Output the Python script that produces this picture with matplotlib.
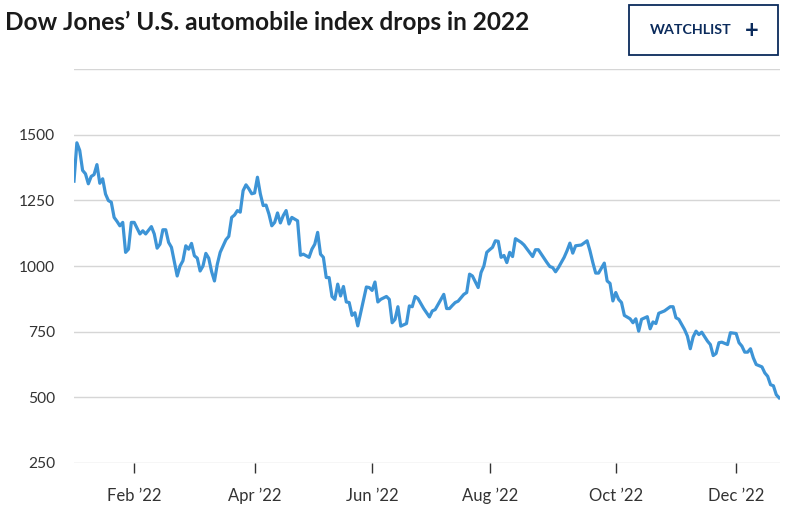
import matplotlib.pyplot as plt
from matplotlib.patches import Rectangle

# trading session number (0 = Dec 31 2021) and index close
session = [0, 1, 2, 3, 4, 5, 6, 7, 8, 9, 10, 11, 12, 13, 14, 15, 16, 17, 18, 19,
           20, 21, 23, 24, 25, 27, 28, 29, 30, 31, 32, 33, 34, 36, 37, 38, 39, 40,
           41, 42, 43, 44, 45, 46, 47, 48, 49, 50, 51, 53, 54, 55, 56, 57, 58, 59,
           60, 61, 62, 63, 64, 65, 66, 67, 68, 69, 70, 71, 72, 73, 74, 75, 76, 78,
           79, 80, 81, 82, 83, 84, 85, 86, 87, 88, 89, 90, 91, 92, 93, 94, 95, 96,
           97, 98, 99, 102, 103, 104, 105, 106, 107, 109, 110, 111, 112, 113, 114,
           116, 117, 118, 119, 120, 122, 124, 125, 126, 128, 129, 130, 131, 132,
           133, 134, 136, 137, 138, 139, 141, 142, 143, 144, 145, 146, 147, 148,
           149, 150, 151, 152, 153, 154, 156, 157, 160, 161, 162, 164, 165, 166,
           167, 168, 169, 171, 172, 173, 174, 175, 177, 179, 180, 181, 182, 183,
           185, 186, 187, 188, 189, 190, 191, 192, 194, 195, 196, 197, 198, 200,
           201, 202, 203, 204, 206, 208, 209, 210, 211, 213, 214, 215, 216, 217,
           218, 219, 221, 222, 223, 224, 225, 226, 228, 229, 231, 232, 233, 234,
           235, 236, 237, 238, 240, 241, 242, 243, 244, 245, 246]
index = [1323, 1469, 1440, 1364, 1351, 1313, 1341, 1348, 1386, 1315, 1332, 1274,
         1249, 1243, 1185, 1170, 1153, 1166, 1052, 1064, 1166, 1166, 1122, 1134,
         1122, 1150, 1122, 1068, 1083, 1138, 1138, 1090, 1071, 962, 1000, 1020,
         1077, 1064, 1086, 1039, 1030, 981, 1000, 1048, 1030, 979, 943, 1007, 1052,
         1100, 1113, 1185, 1194, 1211, 1205, 1287, 1309, 1294, 1275, 1278, 1338,
         1275, 1230, 1232, 1198, 1153, 1166, 1202, 1164, 1192, 1211, 1160, 1185,
         1172, 1041, 1045, 1039, 1033, 1064, 1083, 1128, 1045, 1033, 956, 956, 884,
         873, 931, 886, 922, 863, 861, 812, 822, 772, 920, 918, 907, 939, 863, 873,
         884, 873, 784, 797, 845, 771, 781, 848, 845, 884, 876, 838, 806, 829, 834,
         873, 892, 838, 838, 850, 861, 866, 892, 899, 969, 962, 918, 975, 1000,
         1052, 1062, 1071, 1096, 1094, 1033, 1040, 1013, 1052, 1036, 1104, 1090,
         1080, 1036, 1062, 1062, 1029, 1013, 998, 994, 978, 994, 1033, 1058, 1087,
         1049, 1077, 1080, 1096, 1058, 1013, 973, 973, 1011, 943, 934, 867, 899,
         873, 861, 812, 799, 784, 799, 752, 797, 807, 761, 787, 781, 820, 829, 845,
         845, 803, 797, 758, 733, 685, 730, 752, 739, 748, 714, 701, 659, 667, 708,
         710, 701, 746, 743, 708, 695, 672, 672, 685, 650, 625, 616, 593, 580, 548,
         544, 510, 498]

# first session of each labelled month
month_session = [21, 63, 104, 145, 189, 231]
month_labels = ["Feb \u201922", "Apr \u201922", "Jun \u201922", "Aug \u201922",
                "Oct \u201922", "Dec \u201922"]
y_ticks = [250, 500, 750, 1000, 1250, 1500, 1750]

plt.rcParams['font.family'] = ['Lato', 'DejaVu Sans']

fig = plt.figure(figsize=(7.87, 5.17), dpi=100)
ax = fig.add_axes([74 / 787, 54 / 517, 706 / 787, 394 / 517])

ax.plot(session, index, color='#3d94d6', lw=2.3, solid_joinstyle='round')

ax.set_xlim(0, 246.3)
ax.set_ylim(250, 1750)
ax.set_yticks(y_ticks)
ax.set_yticklabels([str(v) if v < 1750 else '' for v in y_ticks])
ax.set_xticks(month_session)
ax.set_xticklabels(month_labels)

ax.grid(axis='y', color='#d6d6d6', lw=1)
ax.set_axisbelow(True)
for s in ax.spines.values():
    s.set_visible(False)
ax.tick_params(axis='y', length=0, pad=13.5, labelsize=11.2, labelcolor='#333333')
ax.tick_params(axis='x', length=7, width=1, color='#333333', pad=11,
               labelsize=12, labelcolor='#333333')

fig.text(5 / 787, 1 - 22 / 517, "Dow Jones\u2019 U.S. automobile index drops in 2022",
         fontsize=17.6, fontweight='bold', color='#1a1a1a', va='center', ha='left')

# watchlist button
fig.patches.append(Rectangle((629 / 787, 1 - 55 / 517), 149 / 787, 50 / 517,
                             transform=fig.transFigure, fill=False,
                             edgecolor='#0b2b5c', lw=1.3))
fig.text(650 / 787, 1 - 30 / 517, "WATCHLIST", fontsize=10.3, fontweight='bold',
         color='#0b2b5c', va='center', ha='left')
fig.text(752 / 787, 1 - 30 / 517, "+", fontsize=17, fontweight='bold',
         color='#0b2b5c', va='center', ha='center')

fig.savefig('out.png', dpi=100)
